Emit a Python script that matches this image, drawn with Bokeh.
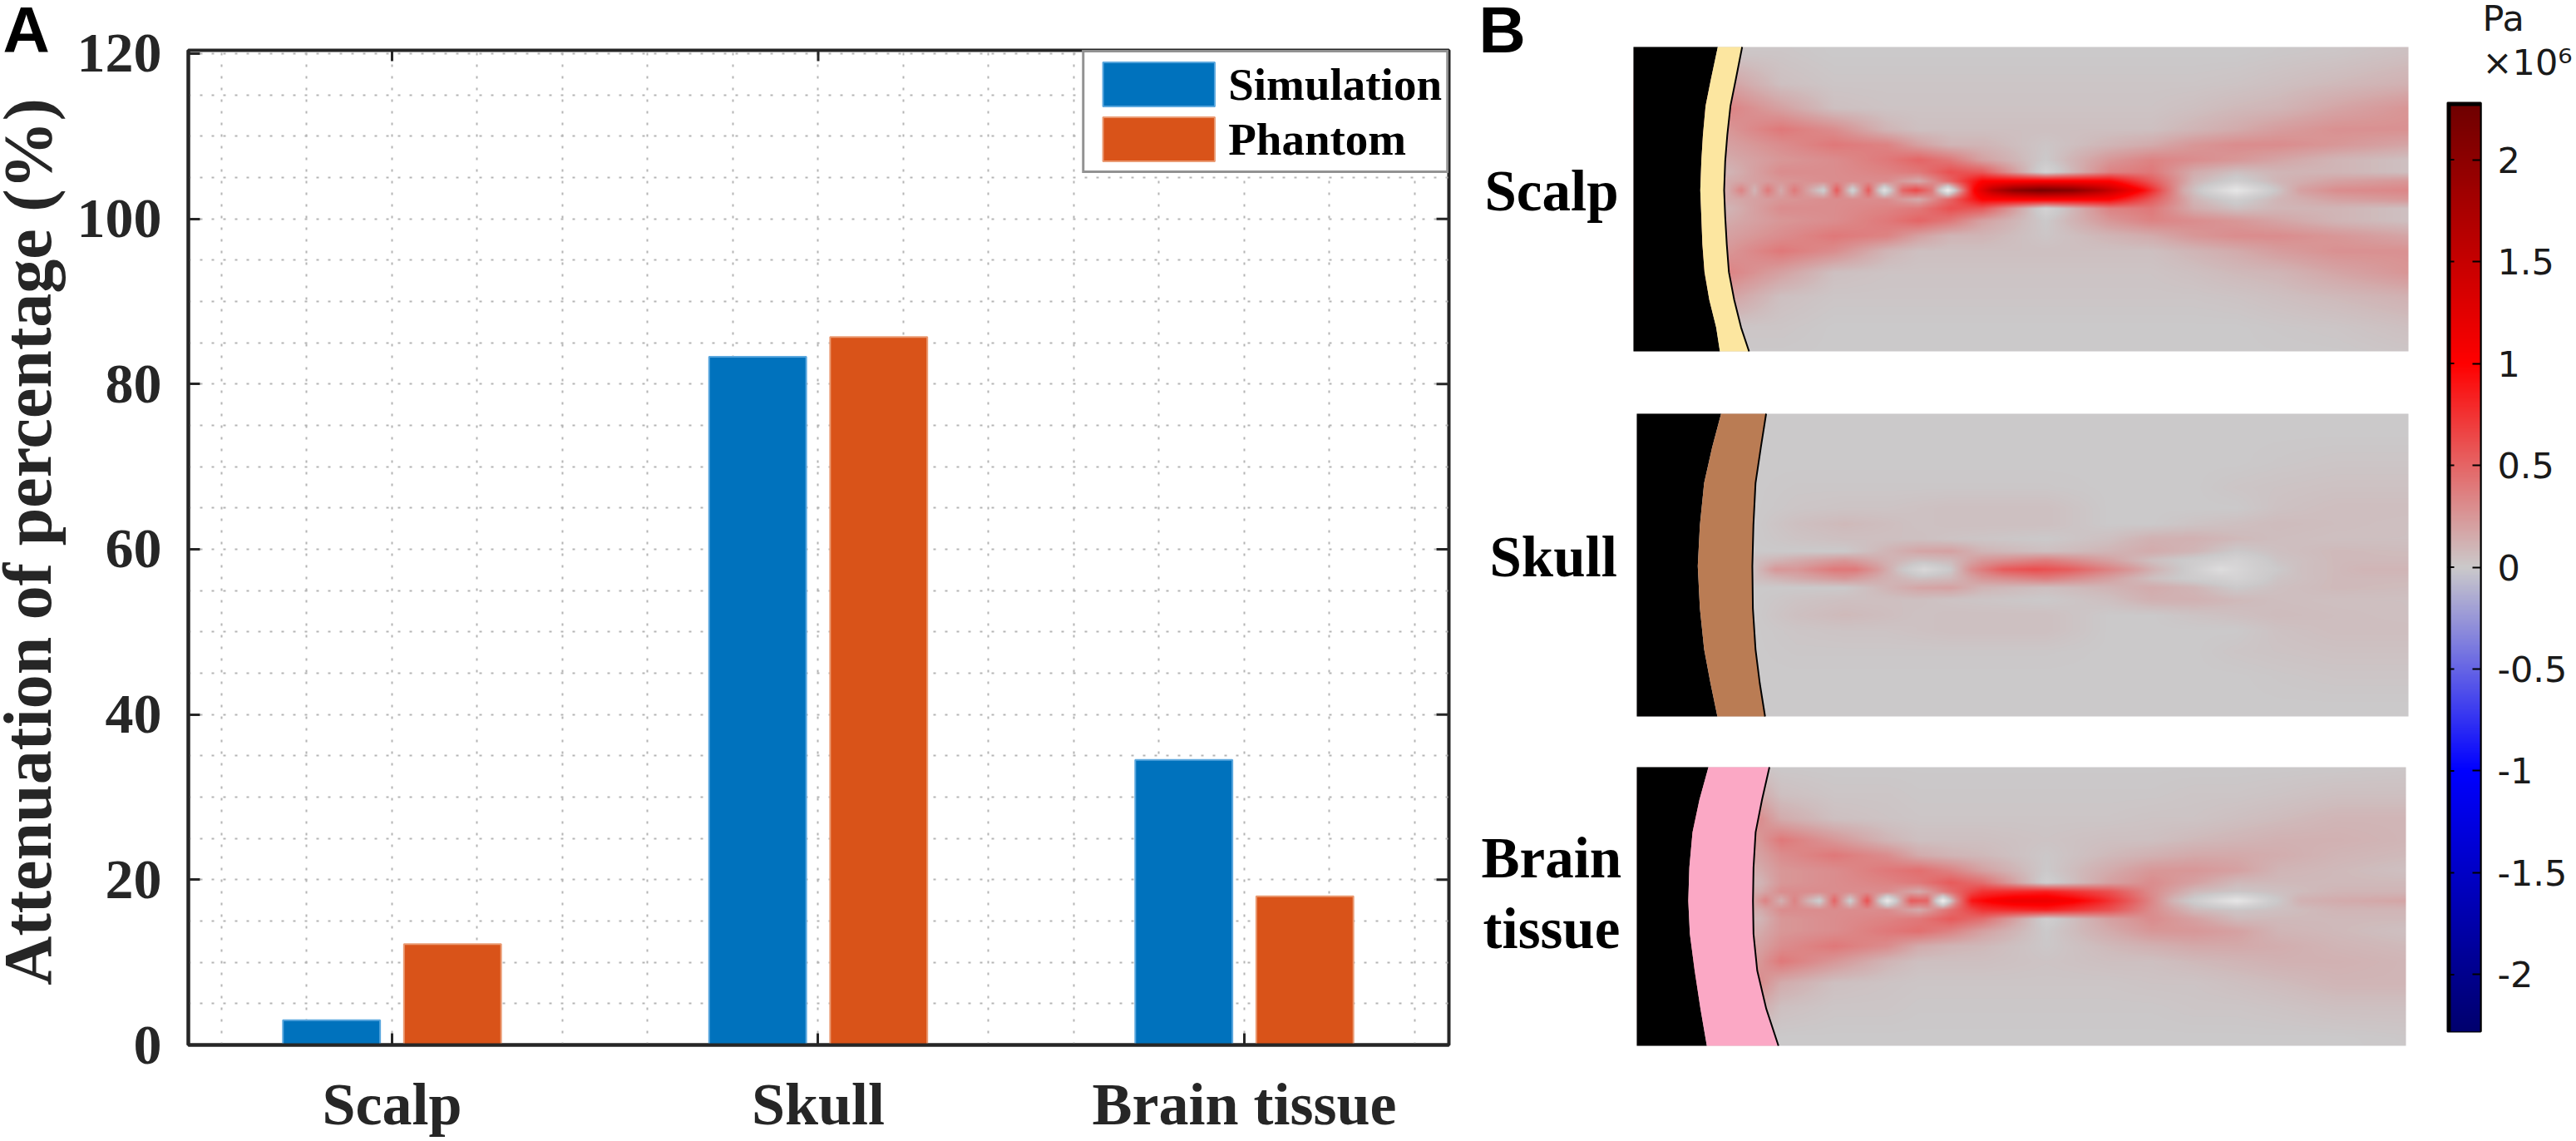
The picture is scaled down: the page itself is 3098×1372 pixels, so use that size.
import math
import numpy as np
from bokeh.plotting import figure
from bokeh.layouts import row, column
from bokeh.models import (FixedTicker, Range1d, Label, Legend, LegendItem, LinearColorMapper)
from bokeh.embed import file_html
from bokeh.resources import INLINE

# ---------- panel A data ----------
categories = ["Scalp", "Skull", "Brain tissue"]
category_pos = [1, 2, 3]
simulation = [3.0, 83.3, 34.5]
phantom = [12.2, 85.7, 18.0]
y_ticks = [0, 20, 40, 60, 80, 100, 120]
y_minor = [5, 10, 15, 25, 30, 35, 45, 50, 55, 65, 70, 75, 85, 90, 95, 105, 110, 115]
x_minor = [0.6, 0.8, 1.2, 1.4, 1.6, 1.8, 2.2, 2.4, 2.6, 2.8, 3.2, 3.4]

# ---------- panel B: pressure (x 10^6 Pa) ----------
offsets = [0, 33, 66, 110, 165, 220, 297, 385, 495, 620]

scalp_center_x = [200, 225, 250, 275, 300, 325, 350, 380, 405, 435, 465, 495, 530, 555, 585, 615,
                  640, 665, 700, 740, 790, 850, 900, 950, 985, 1020, 1060, 1100, 1160, 1220, 1280, 1350, 1484]
scalp_center_v = [.15, .35, .1, .4, .15, .4, .2, -.05, .55, -.1, .55, -.25, .5, .65, .4, -.4,
                  .3, 1.0, 1.6, 2.0, 2.2, 2.05, 1.7, 1.25, .95, .55, .15, -.05, -.3, -.05, .2, .3, .33]
scalp_cols = [200, 300, 400, 500, 560, 620, 680, 800, 920, 1000, 1080, 1160, 1240, 1350, 1484]
scalp_rows = [
    [.15, .25, .3, .3, .15, .5, 1.0, 1.05, 1.0, .55, .1, -.05, .1, .2, .25],
    [.1, .3, .3, .35, .4, .6, .55, -.1, .35, .4, .15, .05, .1, .1, .05],
    [.15, .25, .3, .4, .5, .4, .2, 0, .25, .35, .3, .25, .18, .1, .05],
    [.2, .3, .4, .35, .2, .1, .1, .02, .1, .15, .25, .3, .3, .25, .18],
    [.25, .4, .3, .1, .05, .05, .05, .05, .05, .05, .1, .15, .22, .28, .28],
    [.35, .2, .05, .03, .03, .03, .03, .03, .03, .03, .05, .08, .1, .18, .26],
    [.2, .05, .02, .02, .02, .02, .02, .02, .02, .02, .02, .03, .05, .08, .12],
    [.02, .02, 0, 0, 0, 0, 0, 0, 0, 0, 0, 0, .01, .02, .05],
    [0, 0, 0, 0, 0, 0, 0, 0, 0, 0, 0, 0, 0, 0, .01],
]

skull_center_x = [250, 290, 330, 400, 440, 480, 520, 570, 620, 660, 720, 780, 840, 900, 960, 1010,
                  1060, 1130, 1200, 1280, 1400, 1484]
skull_center_v = [.05, .25, .25, .4, .4, .25, .05, -.15, 0, .3, .55, .62, .55, .4, .25, .1,
                  0, -.2, -.05, .05, .1, .1]
skull_cols = [250, 330, 420, 500, 560, 620, 680, 800, 920, 1000, 1080, 1160, 1240, 1350, 1484]
skull_rows = [
    [.05, .15, .25, .12, .05, .08, .25, .38, .2, .05, -.03, -.1, .03, .08, .08],
    [0, 0, 0, .1, .18, .2, .1, .05, .1, .15, .1, 0, .05, .08, .07],
    [0, .03, .05, .05, .05, .03, .02, 0, .05, .12, .12, .08, .06, .05, .05],
    [0, .05, .08, .06, .04, .05, .05, .05, 0, 0, .03, .05, .07, .06, .05],
    [0, .02, .03, .03, .04, .05, .05, .05, 0, 0, 0, 0, .04, .06, .06],
    [0, .01, .01, .01, .01, .01, .01, .01, 0, 0, 0, .02, .03, .04, .04],
    [0, 0, 0, 0, 0, 0, 0, 0, 0, 0, 0, 0, .01, .02, .02],
    [0, 0, 0, 0, 0, 0, 0, 0, 0, 0, 0, 0, 0, 0, 0],
    [0, 0, 0, 0, 0, 0, 0, 0, 0, 0, 0, 0, 0, 0, 0],
]

brain_center_x = [250, 270, 300, 325, 350, 372, 400, 430, 462, 500, 545, 575, 605, 630, 660, 700,
                  740, 800, 850, 900, 950, 990, 1040, 1100, 1160, 1220, 1280, 1350, 1478]
brain_center_v = [.2, .35, .12, .35, .12, -.05, .5, -.05, .6, -.35, .55, .5, -.4, .3, .9, 1.05,
                  1.15, 1.15, 1.05, .85, .6, .38, .1, -.1, -.3, -.05, .12, .15, .18]
brain_cols = [260, 300, 400, 500, 560, 620, 680, 800, 920, 1000, 1080, 1160, 1240, 1350, 1478]
brain_rows = [
    [.15, .3, .3, .3, .15, .45, .75, .85, .6, .3, .08, .02, .05, .1, .1],
    [.1, .25, .3, .35, .4, .55, .45, -.05, .2, .3, .2, .08, .08, .08, .08],
    [.15, .25, .3, .4, .45, .35, .2, 0, .15, .25, .25, .2, .1, .08, .05],
    [.2, .3, .4, .3, .15, .1, .08, .01, .08, .12, .16, .16, .14, .1, .08],
    [.25, .4, .25, .1, .05, .05, .05, .03, .05, .05, .08, .1, .12, .12, .1],
    [.3, .15, .05, .03, .02, .02, .02, .02, .02, .03, .03, .05, .07, .1, .1],
    [.15, .05, .02, .02, .01, .01, .01, .01, .01, .01, .02, .02, .03, .05, .05],
    [.01, 0, 0, 0, 0, 0, 0, 0, 0, 0, 0, 0, 0, 0, .01],
    [0, 0, 0, 0, 0, 0, 0, 0, 0, 0, 0, 0, 0, 0, 0],
]

# layer boundaries: lateral position, inner edge, outer edge
scalp_lat = [517, 400, 305, 200, 105, 0, -95, -195, -295, -395, -495, -581]
scalp_inner = [181, 168, 158, 153, 150, 148, 150, 152, 156, 165, 178, 185]
scalp_outer = [227, 215, 205, 199, 195, 193, 195, 198, 202, 212, 225, 240]
skull_lat = [562, 440, 312, 160, 12, -140, -288, -410, -530]
skull_inner = [187, 170, 155, 147, 143, 147, 155, 167, 180]
skull_outer = [272, 262, 252, 248, 246, 247, 252, 260, 270]
brain_lat = [483, 365, 248, 120, 0, -120, -252, -390, -524]
brain_inner = [163, 146, 133, 127, 125, 128, 137, 148, 160]
brain_outer = [278, 264, 252, 248, 247, 248, 255, 272, 295]

cbar_ticks = [2, 1.5, 1, 0.5, 0, -0.5, -1, -1.5, -2]
cbar_labels = ["2", "1.5", "1", "0.5", "0", "-0.5", "-1", "-1.5", "-2"]
P_MAX = 2.28

# ---------- styling ----------
INK = "#262626"
BLUE, ORANGE = "#0072bd", "#d95319"
GRAY = (203, 201, 202)
SERIF = "Liberation Serif"


def ramp(stops, n=512):
    xs = [s[0] for s in stops]
    vals = np.linspace(xs[0], xs[-1], n)
    out = []
    for v in vals:
        c = [int(round(np.interp(v, xs, [s[1][k] for s in stops]))) for k in range(3)]
        out.append("#%02x%02x%02x" % tuple(c))
    return out


field_mapper = LinearColorMapper(
    palette=ramp([(-.4, (240, 240, 240)), (0, GRAY), (1, (255, 0, 0)), (P_MAX, (110, 0, 0))]),
    low=-.4, high=P_MAX)
bar_mapper = LinearColorMapper(
    palette=ramp([(-P_MAX, (0, 0, 110)), (-1, (0, 0, 255)), (0, GRAY), (1, (255, 0, 0)), (P_MAX, (110, 0, 0))]),
    low=-P_MAX, high=P_MAX)


def tag(p, text, x, y, font=SERIF, size="69px", style="bold", color="black", angle=0, align="left"):
    p.add_layout(Label(x=x, y=y, x_units="canvas", y_units="canvas", text=text, text_align=align,
                       angle=angle, text_baseline="alphabetic", text_font=font, text_font_style=style,
                       text_font_size=size, text_color=color))


def text_strip(w, h):
    s = figure(frame_width=w, frame_height=h, x_range=Range1d(0, w), y_range=Range1d(0, h),
               output_backend="svg", toolbar_location=None, min_border=0, outline_line_color=None)
    s.axis.visible = False
    s.grid.visible = False
    return s


# ---------- panel A ----------
YMAX, XMIN, XMAX = 120.4, 0.522, 3.48
strip_a = text_strip(80, 80)
tag(strip_a, "A", 3, 35, font="Liberation Sans", size="78px")
strip_y = text_strip(80, 1292)
tag(strip_y, "Attenuation of percentage (%)", 33, 571, size="82px", color=INK, angle=math.pi / 2, align="center")

pa = figure(frame_width=1516, frame_height=1196, x_range=Range1d(XMIN, XMAX), y_range=Range1d(0, YMAX),
            output_backend="svg", toolbar_location=None,
            min_border_left=146, min_border_right=18, min_border_top=60, min_border_bottom=116,
            outline_line_color=INK, outline_line_width=4, background_fill_color="white")
r_sim = pa.vbar(x=[c - .142 for c in category_pos], top=simulation, width=.228, fill_color=BLUE,
                line_color="#5aa7de", line_width=2)
r_pha = pa.vbar(x=[c + .142 for c in category_pos], top=phantom, width=.228, fill_color=ORANGE,
                line_color="#ea9a72", line_width=2)

xt = FixedTicker(ticks=category_pos, minor_ticks=x_minor)
yt = FixedTicker(ticks=y_ticks, minor_ticks=y_minor)
for g, t in ((pa.xgrid[0], xt), (pa.ygrid[0], yt)):
    g.ticker = t
    g.grid_line_color = "#b4b4b4"
    g.grid_line_dash = "3 11"
    g.grid_line_width = 2
    g.minor_grid_line_color = "#b4b4b4"
    g.minor_grid_line_dash = "3 11"
    g.minor_grid_line_width = 2

xa, ya = pa.xaxis[0], pa.yaxis[0]
xa.ticker = xt
ya.ticker = yt
xa.major_label_overrides = {c: n for c, n in zip(category_pos, categories)}
xa.major_label_text_font = SERIF
xa.major_label_text_font_style = "bold"
xa.major_label_text_font_size = "72px"
xa.major_label_text_color = INK
xa.major_label_standoff = 27
ya.major_label_text_font = SERIF
ya.major_label_text_font_style = "bold"
ya.major_label_text_font_size = "68px"
ya.major_label_text_color = INK
ya.major_label_standoff = 28
for ax in (xa, ya):
    ax.axis_line_color = INK
    ax.axis_line_width = 4
    ax.major_tick_line_color = INK
    ax.major_tick_line_width = 3
    ax.major_tick_in = 14
    ax.major_tick_out = 0
    ax.minor_tick_line_color = None
# mirrored tick marks on the top and right edges
tick_dy = 13 * YMAX / 1196
tick_dx = 15 * (XMAX - XMIN) / 1516
pa.segment(x0=category_pos, x1=category_pos, y0=[YMAX] * 3, y1=[YMAX - tick_dy] * 3, line_color=INK, line_width=3)
pa.segment(x0=[XMAX] * len(y_ticks), x1=[XMAX - tick_dx] * len(y_ticks), y0=y_ticks, y1=y_ticks,
           line_color=INK, line_width=3)

legend = Legend(items=[LegendItem(label="Simulation", renderers=[r_sim]),
                       LegendItem(label="Phantom", renderers=[r_pha])],
                location="top_right", margin=0, padding=5, spacing=0,
                glyph_width=168, glyph_height=66, label_standoff=0,
                label_text_font=SERIF, label_text_font_style="bold", label_text_font_size="55px",
                label_text_color="black", label_height=66,
                border_line_color=INK, border_line_width=3, background_fill_color="white", background_fill_alpha=1)
pa.add_layout(legend, "center")


# ---------- panel B ----------
def build_field(cx, cv, cols, rows, x0, x1, y0, y1, w, h):
    xs = np.linspace(x0, x1, w)
    ys = np.linspace(y0, y1, h)
    table = np.vstack([np.interp(xs, cx, cv)] + [np.interp(xs, cols, r) for r in rows])
    off = np.minimum(np.abs(ys), offsets[-1])
    idx = np.clip(np.searchsorted(offsets, off, side="right") - 1, 0, len(offsets) - 2)
    lo, hi = np.array(offsets)[idx], np.array(offsets)[idx + 1]
    t = ((off - lo) / (hi - lo))[:, None]
    return ((1 - t) * table[idx] + t * table[idx + 1]).astype("float32")


def panel(cx, cv, cols, rows, lat, inner, outer, layer_color, x0, x1, y0, y1, fw, fh, ml, mr, mt, mb):
    # the frame fills the figure so that the row captions can sit inside it
    sx, sy = (x1 - x0) / fw, (y1 - y0) / fh
    p = figure(frame_width=fw + ml + mr, frame_height=fh + mt + mb,
               x_range=Range1d(x0 - ml * sx, x1 + mr * sx), y_range=Range1d(y0 - mb * sy, y1 + mt * sy),
               output_backend="svg", toolbar_location=None, min_border=0, outline_line_color=None)
    p.axis.visible = False
    p.grid.visible = False
    p.image(image=[build_field(cx, cv, cols, rows, x0, x1, y0, y1, fw, fh)], x=x0, y=y0, dw=x1 - x0, dh=y1 - y0,
            color_mapper=field_mapper)
    p.harea(y=lat, x1=[x0] * len(lat), x2=inner, fill_color="black")
    p.harea(y=lat, x1=inner, x2=outer, fill_color=layer_color)
    p.line(x=outer, y=lat, line_color="black", line_width=2)
    return p


p1 = panel(scalp_center_x, scalp_center_v, scalp_cols, scalp_rows, scalp_lat, scalp_inner, scalp_outer, "#fce6a0",
           22, 1484, -581, 517, 932, 366, 204, 24, 56, 38)
tag(p1, "Scalp", 25, 229)
tag(p1, "B", 18, 35, font="Liberation Sans", size="78px")
p2 = panel(skull_center_x, skull_center_v, skull_cols, skull_rows, skull_lat, skull_inner, skull_outer, "#ba7c54",
           28, 1484, -530, 562, 928, 364, 208, 24, 37, 29)
tag(p2, "Skull", 31, 209)
p3 = panel(brain_center_x, brain_center_v, brain_cols, brain_rows, brain_lat, brain_inner, brain_outer, "#fba8c5",
           28, 1478, -524, 483, 925, 335, 208, 27, 32, 115)
tag(p3, "Brain", 21, 141)
tag(p3, "tissue", 23, 226)

# ---------- colour bar ----------
head = text_strip(178, 115)
tag(head, "Pa", 65, 21, font="DejaVu Sans", size="43px", style="normal", color="#1a1a1a")
tag(head, "×10⁶", 65, 74, font="DejaVu Sans", size="43px", style="normal", color="#1a1a1a")

pc = figure(frame_width=40, frame_height=1117, x_range=Range1d(0, 1), y_range=Range1d(-P_MAX, P_MAX),
            output_backend="svg", toolbar_location=None, y_axis_location="right",
            min_border_left=23, min_border_right=115,
            min_border_top=8, min_border_bottom=132, outline_line_color="black", outline_line_width=2)
pc.grid.visible = False
pc.xaxis.visible = False
pc.image(image=[np.linspace(-P_MAX, P_MAX, 1117).reshape(-1, 1).astype("float32")], x=0, y=-P_MAX, dw=1,
         dh=2 * P_MAX, color_mapper=bar_mapper)
pc.line(x=[0, 0], y=[-P_MAX, P_MAX], line_color="black", line_width=8)
pc.line(x=[0, 1], y=[P_MAX, P_MAX], line_color="black", line_width=8)
pc.segment(x0=[0] * len(cbar_ticks), x1=[.2] * len(cbar_ticks), y0=cbar_ticks, y1=cbar_ticks,
           line_color="black", line_width=2)
ra = pc.yaxis[0]
ra.ticker = FixedTicker(ticks=cbar_ticks)
ra.major_label_overrides = {t: s for t, s in zip(cbar_ticks, cbar_labels)}
ra.major_label_text_font = "DejaVu Sans"
ra.major_label_text_font_size = "43px"
ra.major_label_text_color = "#1a1a1a"
ra.major_label_standoff = 20
ra.axis_line_color = "black"
ra.axis_line_width = 2
ra.major_tick_line_color = "black"
ra.major_tick_line_width = 2
ra.major_tick_in = 10
ra.major_tick_out = 0
ra.minor_tick_line_color = None

page = row(column(strip_a, strip_y, spacing=0), pa, column(p1, p2, p3, spacing=0), column(head, pc, spacing=0), spacing=0)
open("out.html", "w").write(file_html(page, INLINE))
